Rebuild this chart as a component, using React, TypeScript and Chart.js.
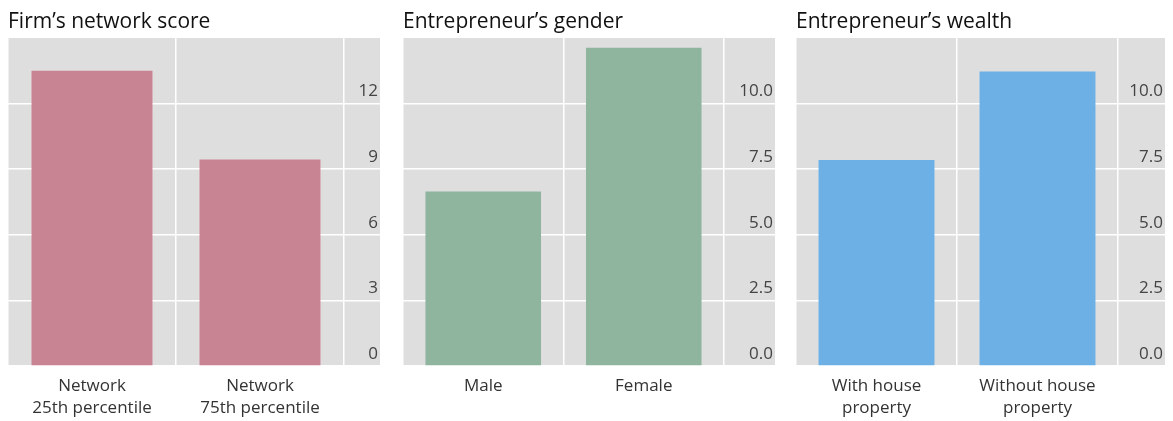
import React, { useEffect, useRef } from 'react';
import { Chart, registerables } from 'chart.js';

Chart.register(...registerables);

const FONT = '"Open Sans", "Noto Sans", sans-serif';

// Panel 1: firm's network score
const networkTitle = 'Firm\u2019s network score';
const networkCategories = [['Network', '25th percentile'], ['Network', '75th percentile']];
const networkValues = [13.5, 9.44];
const networkTickValues = [0, 3, 6, 9, 12];
const networkTickLabels = ['0', '3', '6', '9', '12'];
const networkMax = 15;

// Panel 2: entrepreneur's gender
const genderTitle = 'Entrepreneur\u2019s gender';
const genderCategories = ['Male', 'Female'];
const genderValues = [6.65, 12.13];

// Panel 3: entrepreneur's wealth
const wealthTitle = 'Entrepreneur\u2019s wealth';
const wealthCategories = [['With house', 'property'], ['Without house', 'property']];
const wealthValues = [7.85, 11.22];

const shareTickValues = [0, 2.5, 5, 7.5, 10];
const shareTickLabels = ['0.0', '2.5', '5.0', '7.5', '10.0'];
const shareMax = 12.5;

type PanelProps = {
  title: string;
  labels: (string | string[])[];
  values: number[];
  color: string;
  max: number;
  tickValues: number[];
  tickLabels: string[];
  axisWidth: number;
  left: number;
  width: number;
};

function Panel({ title, labels, values, color, max, tickValues, tickLabels, axisWidth, left, width }: PanelProps) {
  const ref = useRef<HTMLCanvasElement>(null);
  useEffect(() => {
    if (!ref.current) return;
    const bg = {
      id: 'panelBg',
      beforeDraw(chart: any) {
        const { ctx, chartArea } = chart;
        const y = chart.scales.y;
        ctx.save();
        ctx.fillStyle = '#dedede';
        ctx.fillRect(chartArea.left, chartArea.top, y.right - chartArea.left, chartArea.bottom - chartArea.top);
        ctx.restore();
      },
    };
    const chart = new Chart(ref.current, {
      type: 'bar',
      data: {
        labels,
        datasets: [
          {
            data: values,
            backgroundColor: color,
            borderWidth: 0,
            barPercentage: 0.9,
            categoryPercentage: 0.8,
          },
        ],
      },
      options: {
        animation: false,
        responsive: true,
        maintainAspectRatio: false,
        layout: { padding: { left: 0, right: 0, top: 0, bottom: 0 } },
        plugins: {
          legend: { display: false },
          tooltip: { enabled: false },
          title: {
            display: true,
            text: title,
            align: 'start',
            color: '#111',
            font: { family: FONT, size: 21, weight: 'normal', lineHeight: 1.2 },
            padding: { top: 1, bottom: 3.8 },
          },
        },
        scales: {
          x: {
            grid: { color: '#ffffff', lineWidth: 1.5, drawTicks: false, offset: true },
            border: { display: false },
            afterFit: (s: any) => {
              s.height = 55;
              s.paddingLeft = 0;
              s.paddingRight = 0;
            },
            ticks: {
              color: '#333',
              font: { family: FONT, size: 17, lineHeight: 1.3 },
              padding: 9,
              maxRotation: 0,
              autoSkip: false,
            },
          },
          y: {
            position: 'right',
            min: 0,
            max,
            grid: { color: '#ffffff', lineWidth: 1.5, tickLength: axisWidth },
            border: { display: false },
            afterBuildTicks: (s: any) => {
              s.ticks = tickValues.map((v) => ({ value: v }));
            },
            afterFit: (s: any) => {
              s.width = axisWidth;
              s.paddingTop = 0;
              s.paddingBottom = 0;
            },
            ticks: {
              mirror: true,
              crossAlign: 'near',
              padding: axisWidth - 2,
              labelOffset: -12,
              color: '#444',
              font: { family: FONT, size: 17 },
              callback: (_v: any, i: number) => tickLabels[i],
            },
          },
        },
      } as any,
      plugins: [bg],
    });
    return () => chart.destroy();
  }, []);
  return (
    <div style={{ position: 'absolute', left, top: 0, width, height: 413 }}>
      <canvas ref={ref} />
    </div>
  );
}

export default function App() {
  return (
    <div style={{ position: 'relative', width: 1157, height: 413 }}>
      <Panel
        title={networkTitle}
        labels={networkCategories}
        values={networkValues}
        color="#c98494"
        max={networkMax}
        tickValues={networkTickValues}
        tickLabels={networkTickLabels}
        axisWidth={36}
        left={0}
        width={372}
      />
      <Panel
        title={genderTitle}
        labels={genderCategories}
        values={genderValues}
        color="#8fb59f"
        max={shareMax}
        tickValues={shareTickValues}
        tickLabels={shareTickLabels}
        axisWidth={51}
        left={395}
        width={372}
      />
      <Panel
        title={wealthTitle}
        labels={wealthCategories}
        values={wealthValues}
        color="#6cb0e6"
        max={shareMax}
        tickValues={shareTickValues}
        tickLabels={shareTickLabels}
        axisWidth={47}
        left={788}
        width={369}
      />
    </div>
  );
}
